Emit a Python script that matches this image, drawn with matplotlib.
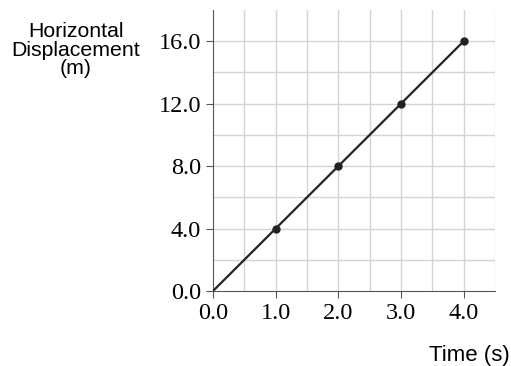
import numpy as np
import matplotlib.pyplot as plt

# data points
time = [0.0, 1.0, 2.0, 3.0, 4.0]
disp = [0.0, 4.0, 8.0, 12.0, 16.0]
xticks = [0.0, 1.0, 2.0, 3.0, 4.0]
yticks = [0.0, 4.0, 8.0, 12.0, 16.0]

fig = plt.figure(figsize=(5.11, 3.66), dpi=100)
ax = fig.add_axes([213/511, 75/366, 282/511, 281/366])

ax.plot(time, disp, color='#222222', lw=1.6, zorder=3)
ax.plot(time[1:], disp[1:], 'o', color='#222222', ms=5, zorder=4)

ax.set_xlim(0, 4.5)
ax.set_ylim(0, 18)

# grid every 0.5 s and every 2 m
for gx in np.arange(0.5, 4.51, 0.5):
    ax.axvline(gx, color='#d4d4d4', lw=1, zorder=1)
for gy in np.arange(2, 16.1, 2):
    ax.axhline(gy, color='#d4d4d4', lw=1, zorder=1)

ax.spines['top'].set_visible(False)
ax.spines['right'].set_visible(False)
ax.spines['left'].set_color('#555555')
ax.spines['bottom'].set_color('#555555')

ax.set_xticks(xticks)
ax.set_yticks(yticks)
ax.set_xticklabels(['%.1f' % v for v in xticks], family='Liberation Serif', fontsize=17.5)
ax.set_yticklabels(['%.1f' % v for v in yticks], family='Liberation Serif', fontsize=17.5)
ax.tick_params(direction='out', length=5, color='#555555', pad=3.5)

fig.text(76/511, 1 - 50/366, 'Horizontal\nDisplacement\n(m)', ha='center', va='center',
         family='Liberation Sans', fontsize=15.3, linespacing=0.95)
fig.text(510/511, 1 - 355/366, 'Time (s)', ha='right', va='center',
         family='Liberation Sans', fontsize=16)

fig.savefig('out.png', dpi=100)
